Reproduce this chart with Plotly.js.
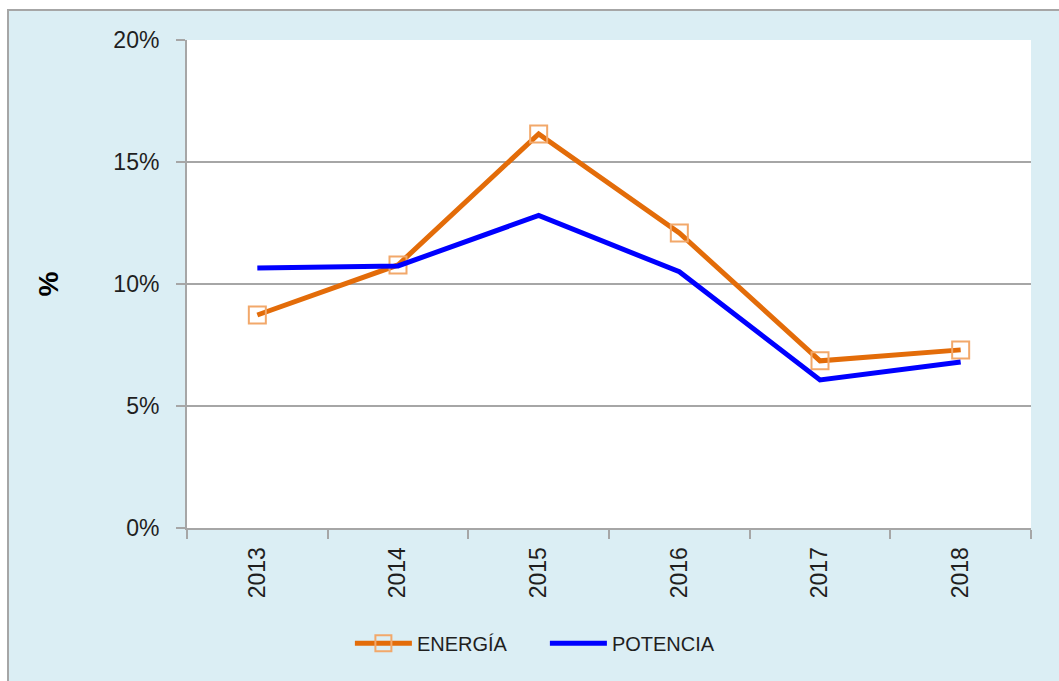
<!DOCTYPE html>
<html>
<head>
<meta charset="utf-8">
<script src="https://cdn.plot.ly/plotly-3.0.1.min.js"></script>
<style>html,body{margin:0;padding:0;background:#fff;}#chart{width:1059px;height:681px;}</style>
</head>
<body>
<div id="chart"></div>
<script>
const years = ['2013', '2014', '2015', '2016', '2017', '2018'];
const energia = [8.73, 10.78, 16.15, 12.09, 6.85, 7.3];
const potencia = [10.66, 10.74, 12.81, 10.5, 6.07, 6.8];
const yTicks = [0, 5, 10, 15, 20];
const yTickText = ['0%', '5%', '10%', '15%', '20%'];

const font = 'Liberation Sans, Arial, sans-serif';

const traces = [
  {
    x: years, y: energia, name: 'ENERGÍA', type: 'scatter', mode: 'lines+markers',
    line: {color: '#E36C09', width: 5},
    marker: {symbol: 'square-open', size: 17, color: '#F2A86A', line: {width: 2, color: '#F2A86A'}}
  },
  {
    x: years, y: potencia, name: 'POTENCIA', type: 'scatter', mode: 'lines',
    line: {color: '#0000FF', width: 5}
  }
];

const layout = {
  width: 1059, height: 681,
  margin: {l: 187, r: 28, t: 40, b: 153},
  paper_bgcolor: '#FFFFFF',
  plot_bgcolor: '#FFFFFF',
  font: {family: font, color: '#1F1F1F', size: 22},
  showlegend: true,
  legend: {
    orientation: 'h', x: 0.193, xanchor: 'left', y: -0.236, yanchor: 'middle',
    bgcolor: 'rgba(0,0,0,0)', font: {size: 20, family: font, color: '#1F1F1F'},
    entrywidth: 123, entrywidthmode: 'pixels', itemwidth: 57
  },
  xaxis: {
    type: 'category', range: [-0.5, 5.5], tickson: 'boundaries', ticks: 'outside', ticklen: 9, tickwidth: 2, tickcolor: '#A6A6A6',
    showline: true, linecolor: '#A6A6A6', linewidth: 2, showgrid: false, tickangle: -90,
    tickfont: {size: 23, family: font, color: '#1F1F1F'}, zeroline: false, ticklabelstandoff: 8
  },
  yaxis: {
    range: [0, 20], tickvals: yTicks, ticktext: yTickText, ticks: 'outside', ticklen: 9, tickwidth: 2, tickcolor: '#A6A6A6',
    showline: true, linecolor: '#A6A6A6', linewidth: 2, showgrid: true, gridcolor: '#A6A6A6', gridwidth: 2,
    zeroline: false, tickfont: {size: 23, family: font, color: '#1F1F1F'}, ticklabelstandoff: 12,
    title: {text: '<b>%</b>', font: {size: 28, family: font, color: '#000'}, standoff: 47}
  },
  shapes: [
    {type: 'rect', xref: 'paper', yref: 'paper', layer: 'below',
     x0: (8 - 187) / 844, x1: (1070 - 187) / 844, y0: (681 - 700 - 153) / 488, y1: (681 - 10 - 153) / 488,
     fillcolor: '#DBEEF4', line: {color: '#A6A6A6', width: 2}},
    {type: 'rect', xref: 'paper', yref: 'paper', layer: 'below',
     x0: 0, x1: 1, y0: 0, y1: 1, fillcolor: '#FFFFFF', line: {width: 0}}
  ]
};

Plotly.newPlot('chart', traces, layout, {displayModeBar: false, staticPlot: true});
</script>
</body>
</html>
